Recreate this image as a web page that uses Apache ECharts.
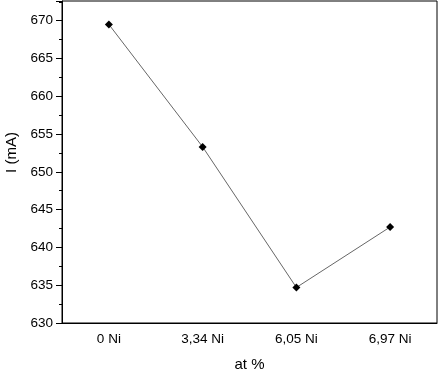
<!DOCTYPE html>
<html>
<head>
<meta charset="utf-8">
<script src="https://cdn.jsdelivr.net/npm/echarts@6/dist/echarts.min.js"></script>
<style>
  html, body { margin: 0; padding: 0; background: #fff; }
  #chart { width: 443px; height: 372px; }
</style>
</head>
<body>
<div id="chart"></div>
<script>
  // categories and measured current
  const categories = ['0 Ni', '3,34 Ni', '6,05 Ni', '6,97 Ni'];
  const currentValues = [669.5, 653.3, 634.7, 642.7];
  const yTicks = [630, 635, 640, 645, 650, 655, 660, 665, 670];

  const font = 'Liberation Sans, Arial, sans-serif';
  const myChart = echarts.init(document.getElementById('chart'));

  myChart.setOption({
    animation: false,
    grid: {
      left: 62, right: 6, top: 1, bottom: 49,
      outerBoundsMode: 'none',
      containLabel: false,
      show: true,
      borderColor: '#000',
      borderWidth: 1
    },
    xAxis: [{
      type: 'category',
      data: categories,
      boundaryGap: true,
      name: 'at %',
      nameLocation: 'middle',
      nameGap: 34,
      nameTextStyle: { fontFamily: font, fontSize: 15, color: '#000' },
      axisLine: { lineStyle: { color: '#000', width: 1 } },
      axisTick: { alignWithLabel: true, length: 5, lineStyle: { color: '#000' } },
      axisLabel: { fontFamily: font, fontSize: 13.5, color: '#000', margin: 9 },
      splitLine: { show: false }
    }, {
      // boundary (minor) ticks between categories
      type: 'category',
      data: categories,
      boundaryGap: true,
      position: 'bottom',
      axisLine: { show: false },
      axisTick: { length: 3, lineStyle: { color: '#000' } },
      axisLabel: { show: false },
      splitLine: { show: false }
    }],
    yAxis: {
      type: 'value',
      min: 630,
      max: 672.6,
      interval: 5,
      name: 'I (mA)',
      nameLocation: 'middle',
      nameGap: 42,
      nameTextStyle: { fontFamily: font, fontSize: 15, color: '#000', padding: [0, 0, 0, 19] },
      axisLine: { show: true, lineStyle: { color: '#000', width: 1 } },
      axisTick: { show: true, length: 6, lineStyle: { color: '#000' } },
      minorTick: { show: true, splitNumber: 2, length: 3, lineStyle: { color: '#000' } },
      axisLabel: {
        fontFamily: font, fontSize: 13.5, color: '#000', margin: 9,
        formatter: v => yTicks.indexOf(v) >= 0 ? String(v) : ''
      },
      splitLine: { show: false }
    },
    series: [{
      type: 'line',
      data: currentValues,
      symbol: 'diamond',
      symbolSize: 8,
      itemStyle: { color: '#000' },
      lineStyle: { color: '#666', width: 1 }
    }]
  });
</script>
</body>
</html>
